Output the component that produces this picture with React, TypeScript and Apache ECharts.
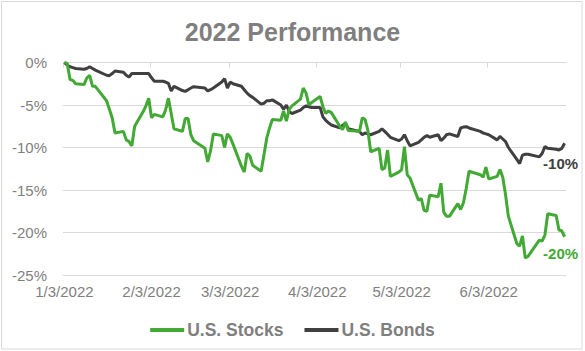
import React, { useEffect, useRef } from "react";
import * as echarts from "echarts";

// ---- data ----
const tradingDates: string[] = [
  "2022-01-03","2022-01-04","2022-01-05","2022-01-06","2022-01-07","2022-01-10","2022-01-11","2022-01-12","2022-01-13","2022-01-14",
  "2022-01-18","2022-01-19","2022-01-20","2022-01-21","2022-01-24","2022-01-25","2022-01-26","2022-01-27","2022-01-28","2022-01-31",
  "2022-02-01","2022-02-02","2022-02-03","2022-02-04","2022-02-07","2022-02-08","2022-02-09","2022-02-10","2022-02-11","2022-02-14",
  "2022-02-15","2022-02-16","2022-02-17","2022-02-18","2022-02-22","2022-02-23","2022-02-24","2022-02-25","2022-02-28",
  "2022-03-01","2022-03-02","2022-03-03","2022-03-04","2022-03-07","2022-03-08","2022-03-09","2022-03-10","2022-03-11","2022-03-14",
  "2022-03-15","2022-03-16","2022-03-17","2022-03-18","2022-03-21","2022-03-22","2022-03-23","2022-03-24","2022-03-25","2022-03-28",
  "2022-03-29","2022-03-30","2022-03-31",
  "2022-04-01","2022-04-04","2022-04-05","2022-04-06","2022-04-07","2022-04-08","2022-04-11","2022-04-12","2022-04-13","2022-04-14",
  "2022-04-18","2022-04-19","2022-04-20","2022-04-21","2022-04-22","2022-04-25","2022-04-26","2022-04-27","2022-04-28","2022-04-29",
  "2022-05-02","2022-05-03","2022-05-04","2022-05-05","2022-05-06","2022-05-09","2022-05-10","2022-05-11","2022-05-12","2022-05-13",
  "2022-05-16","2022-05-17","2022-05-18","2022-05-19","2022-05-20","2022-05-23","2022-05-24","2022-05-25","2022-05-26","2022-05-27",
  "2022-05-31",
  "2022-06-01","2022-06-02","2022-06-03","2022-06-06","2022-06-07","2022-06-08","2022-06-09","2022-06-10","2022-06-13","2022-06-14",
  "2022-06-15","2022-06-16","2022-06-17","2022-06-21","2022-06-22","2022-06-23","2022-06-24","2022-06-27","2022-06-28","2022-06-29",
  "2022-06-30",
];

const stocks: number[] = [
  0, -0.1, -2.0, -2.1, -2.5, -2.6, -1.8, -1.5, -2.8, -2.8, -4.5, -5.5, -6.5, -8.3, -8.1, -9.1, -9.3, -9.8, -7.5, -5.8,
  -5.1, -4.2, -6.5, -6.1, -6.4, -5.6, -4.2, -6.0, -7.8, -8.1, -6.6, -6.6, -8.5, -9.2, -10.1, -11.7, -10.4, -8.4, -8.6,
  -10.0, -8.4, -8.8, -9.6, -12.2, -12.9, -10.7, -11.0, -12.1, -12.8, -10.9, -8.9, -7.7, -6.7, -6.8, -5.7, -6.9, -5.5, -5.1, -4.3, -3.0, -3.6, -5.0,
  -4.7, -4.0, -5.2, -6.0, -5.7, -5.9, -7.5, -7.9, -7.0, -8.0, -8.1, -6.5, -6.7, -8.0, -10.5, -10.1, -12.6, -12.4, -10.3, -13.4,
  -12.9, -12.6, -9.9, -13.2, -13.6, -16.2, -16.0, -17.4, -17.5, -15.6, -15.8, -14.2, -17.6, -18.1, -18.1, -16.6, -17.3, -16.5, -14.8, -12.8, -13.2,
  -13.5, -12.3, -13.7, -13.4, -12.6, -13.5, -15.6, -18.1, -21.3, -21.6, -20.4, -23.0, -22.8, -20.9, -21.0, -20.3, -17.8, -18.0, -19.7, -19.8, -20.5,
];

const bonds: number[] = [
  0, -0.3, -0.5, -0.6, -0.7, -0.8, -0.7, -0.5, -0.7, -0.9, -1.5, -1.55, -1.3, -1.0, -1.15, -1.5, -1.7, -1.3, -1.3, -1.3,
  -1.3, -1.3, -1.8, -2.2, -2.2, -2.3, -2.45, -3.35, -2.8, -3.3, -3.4, -3.2, -3.0, -2.85, -3.0, -3.35, -3.2, -3.0, -2.3,
  -1.9, -3.0, -2.3, -2.5, -2.8, -3.2, -3.6, -3.9, -4.1, -4.9, -4.8, -4.5, -4.5, -4.4, -5.0, -5.5, -5.0, -5.8, -6.0, -5.6, -5.3, -5.1, -5.2,
  -5.3, -5.3, -6.4, -6.8, -7.1, -7.35, -7.7, -7.4, -7.15, -7.8, -8.1, -8.5, -8.3, -8.4, -8.5, -8.1, -7.8, -8.1, -8.45, -8.8,
  -9.2, -9.0, -8.5, -9.2, -9.8, -9.4, -9.1, -8.8, -8.6, -8.8, -8.5, -9.2, -8.9, -8.5, -8.4, -8.7, -7.7, -7.6, -7.55, -7.7, -8.1,
  -8.3, -8.4, -8.5, -9.1, -8.7, -9.0, -9.3, -10.0, -11.4, -11.9, -10.9, -10.8, -10.8, -11.1, -10.7, -9.9, -10.1, -10.2, -10.3, -10.1, -9.5,
];

const seriesNames = ["U.S. Stocks", "U.S. Bonds"];
const xTickDates = ["2022-01-03", "2022-02-03", "2022-03-03", "2022-04-03", "2022-05-03", "2022-06-03"];
const xTickLabels = ["1/3/2022", "2/3/2022", "3/3/2022", "4/3/2022", "5/3/2022", "6/3/2022"];
const yTicks = [0, -5, -10, -15, -20, -25];
const stocksEndLabel = "-20%";
const bondsEndLabel = "-10%";
const titleText = "2022 Performance";

// ---- helpers ----
const startDate = tradingDates[0];
const dayOffset = (iso: string) =>
  Math.round((Date.parse(iso + "T00:00:00Z") - Date.parse(startDate + "T00:00:00Z")) / 86400000);
const lastDay = dayOffset(tradingDates[tradingDates.length - 1]);

const GREEN = "#41a934";
const DARK = "#404040";
const GRAY_TEXT = "#7f7f7f";
const GRID_LINE = "#d9d9d9";
const FONT = "'Liberation Sans', Arial, sans-serif";

export default function App() {
  const ref = useRef<HTMLDivElement>(null);

  useEffect(() => {
    document.body.style.margin = "0";
    if (!ref.current) return;
    const chart = echarts.init(ref.current, undefined, { renderer: "svg" });

    const tickOffsets = xTickDates.map(dayOffset);
    const labelMap: Record<number, string> = {};
    tickOffsets.forEach((o, i) => (labelMap[o] = xTickLabels[i]));

    const stockData = tradingDates.map((d, i) => [dayOffset(d), stocks[i]]);
    const bondData = tradingDates.map((d, i) => [dayOffset(d), bonds[i]]);
    const lastStock = stockData[stockData.length - 1];
    const lastBond = bondData[bondData.length - 1];

    const option: any = {
      animation: false,
      textStyle: { fontFamily: FONT },
      graphic: [
        {
          type: "rect",
          shape: { x: 1.5, y: 1.5, width: 580.5, height: 347.5 },
          style: { fill: "none", stroke: GRID_LINE, lineWidth: 1 },
          silent: true,
        },
      ],
      title: {
        text: titleText,
        left: "center",
        top: 14,
        textStyle: { fontSize: 25, fontWeight: "bold", color: GRAY_TEXT, fontFamily: FONT },
      },
      legend: {
        data: seriesNames.map((n) => ({ name: n, icon: "rect" })),
        left: "center",
        top: 316,
        itemWidth: 34,
        itemHeight: 4,
        itemGap: 21,
        textStyle: { fontSize: 17.5, fontWeight: "bold", color: GRAY_TEXT, fontFamily: FONT, padding: [0, 0, 0, -2] },
      },
      grid: { left: 63, right: 19, top: 62.5, bottom: 76, containLabel: false },
      xAxis: [
        {
          type: "value",
          position: "top",
          min: -0.5,
          max: lastDay + 0.5,
          axisLine: { show: true, onZero: false, lineStyle: { color: GRID_LINE, width: 1 } },
          axisTick: {
            show: true,
            inside: true,
            length: 5,
            customValues: tickOffsets.map((o) => o - 0.5),
            lineStyle: { color: GRID_LINE, width: 1 },
          },
          axisLabel: { show: false },
          splitLine: { show: false },
        },
        {
          type: "value",
          position: "bottom",
          min: -0.5,
          max: lastDay + 0.5,
          axisLine: { show: false, onZero: false },
          axisTick: { show: false },
          axisLabel: {
            customValues: tickOffsets,
            formatter: (v: number) => labelMap[Math.round(v)] ?? "",
            fontSize: 15,
            color: GRAY_TEXT,
            margin: 9,
            fontFamily: FONT,
          },
          splitLine: { show: false },
        },
      ],
      yAxis: {
        type: "value",
        min: yTicks[yTicks.length - 1],
        max: yTicks[0],
        interval: 5,
        axisLine: { show: false },
        axisTick: { show: false },
        axisLabel: {
          formatter: (v: number) => `${v}%`,
          fontSize: 15,
          color: GRAY_TEXT,
          margin: 16,
          fontFamily: FONT,
        },
        splitLine: { show: true, lineStyle: { color: GRID_LINE, width: 1 } },
      },
      series: [
        {
          name: seriesNames[0],
          type: "line",
          xAxisIndex: 1,
          data: stockData,
          showSymbol: false,
          color: GREEN,
          lineStyle: { color: GREEN, width: 3 },
          z: 3,
          markPoint: {
            symbol: "circle",
            symbolSize: 0,
            silent: true,
            data: [
              {
                coord: lastStock,
                label: {
                  show: true,
                  formatter: stocksEndLabel,
                  position: "bottom",
                  distance: 9,
                  offset: [-4, 0],
                  fontSize: 15,
                  fontWeight: "bold",
                  color: GREEN,
                  fontFamily: FONT,
                },
              },
            ],
          },
        },
        {
          name: seriesNames[1],
          type: "line",
          xAxisIndex: 1,
          data: bondData,
          showSymbol: false,
          color: DARK,
          lineStyle: { color: DARK, width: 3 },
          z: 2,
          markPoint: {
            symbol: "circle",
            symbolSize: 0,
            silent: true,
            data: [
              {
                coord: lastBond,
                label: {
                  show: true,
                  formatter: bondsEndLabel,
                  position: "bottom",
                  distance: 13,
                  offset: [-4, 0],
                  fontSize: 15,
                  fontWeight: "bold",
                  color: DARK,
                  fontFamily: FONT,
                },
              },
            ],
          },
        },
      ],
    };

    chart.setOption(option);
    return () => chart.dispose();
  }, []);

  return (
    <div
      ref={ref}
      style={{ width: 585, height: 351, position: "absolute", left: 0, top: 0, background: "#fff" }}
    />
  );
}
